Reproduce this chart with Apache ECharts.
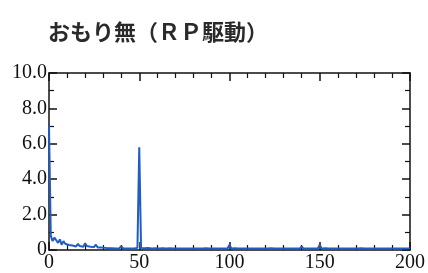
<!DOCTYPE html>
<html>
<head>
<meta charset="utf-8">
<script src="https://cdn.jsdelivr.net/npm/echarts@6/dist/echarts.min.js"></script>
<style>
  html, body { margin: 0; padding: 0; background: #fff; }
  #main { width: 428px; height: 273px; }
</style>
</head>
<body>
<div id="main"></div>
<script>
// 周波数 (Hz)
var freq = [];
for (var f = 0; f <= 200; f++) freq.push(f);

// 振幅 (読み取り値)
var amp = [
  7.0, 0.80, 0.50, 0.70, 0.55, 0.40, 0.60, 0.30, 0.50, 0.35,
  0.45, 0.28, 0.35, 0.25, 0.30, 0.20, 0.35, 0.22, 0.30, 0.18,
  0.38, 0.22, 0.30, 0.18, 0.28, 0.17, 0.30, 0.14, 0.24, 0.14,
  0.20, 0.12, 0.15, 0.10, 0.14, 0.10, 0.12, 0.09, 0.11, 0.09,
  0.22, 0.10, 0.11, 0.08, 0.10, 0.08, 0.09, 0.08, 0.10, 0.12,
  5.80, 0.12, 0.09, 0.10, 0.08, 0.12, 0.08, 0.09, 0.08, 0.10,
  0.20, 0.09, 0.08, 0.10, 0.08, 0.09, 0.08, 0.10, 0.08, 0.09,
  0.18, 0.08, 0.09, 0.08, 0.10, 0.08, 0.09, 0.08, 0.09, 0.08,
  0.18, 0.08, 0.10, 0.08, 0.09, 0.08, 0.09, 0.10, 0.08, 0.09,
  0.18, 0.08, 0.09, 0.08, 0.10, 0.08, 0.09, 0.08, 0.09, 0.10,
  0.30, 0.09, 0.08, 0.10, 0.08, 0.09, 0.08, 0.09, 0.08, 0.09,
  0.20, 0.08, 0.09, 0.08, 0.10, 0.08, 0.09, 0.08, 0.09, 0.08,
  0.18, 0.08, 0.09, 0.10, 0.08, 0.09, 0.08, 0.09, 0.08, 0.09,
  0.18, 0.08, 0.09, 0.08, 0.10, 0.08, 0.09, 0.08, 0.09, 0.08,
  0.20, 0.08, 0.09, 0.08, 0.10, 0.09, 0.08, 0.09, 0.08, 0.10,
  0.30, 0.09, 0.08, 0.10, 0.08, 0.09, 0.08, 0.09, 0.08, 0.09,
  0.20, 0.08, 0.09, 0.08, 0.10, 0.08, 0.09, 0.08, 0.09, 0.08,
  0.18, 0.08, 0.09, 0.10, 0.08, 0.09, 0.08, 0.09, 0.08, 0.09,
  0.18, 0.08, 0.09, 0.08, 0.10, 0.08, 0.09, 0.08, 0.09, 0.08,
  0.18, 0.08, 0.09, 0.08, 0.10, 0.08, 0.09, 0.08, 0.09, 0.08,
  0.10
];

var title = 'おもり無（ＲＰ駆動）';

var myChart = echarts.init(document.getElementById('main'));
var data = freq.map(function (x, i) { return [x, amp[i]]; });

var lineBlack = { show: true, onZero: false, lineStyle: { color: '#111', width: 1.5 } };
var serif = { fontFamily: 'Liberation Serif', fontSize: 20, color: '#111' };
var tick = { show: true, inside: true, length: 8, lineStyle: { color: '#111', width: 1.5 } };

myChart.setOption({
  animation: false,
  title: {
    text: title,
    left: 43,
    top: 16,
    textStyle: { fontFamily: 'Noto Sans CJK JP', fontSize: 22, fontWeight: 'bold', color: '#2a2a2a' }
  },
  grid: { left: 49, right: 16, top: 73, bottom: 20 },
  xAxis: [
    {
      type: 'value', min: 0, max: 200, interval: 50, position: 'bottom',
      axisLine: lineBlack,
      axisTick: tick,
      minorTick: { show: true, splitNumber: 5, length: 5, lineStyle: { color: '#111', width: 1.2 } },
      splitLine: { show: false },
      axisLabel: Object.assign({ margin: 3 }, serif)
    },
    {
      type: 'value', min: 0, max: 200, interval: 50, position: 'top',
      axisLine: lineBlack,
      axisTick: tick,
      minorTick: { show: true, splitNumber: 5, length: 5, lineStyle: { color: '#111', width: 1.2 } },
      splitLine: { show: false },
      axisLabel: { show: false }
    }
  ],
  yAxis: [
    {
      type: 'value', min: 0, max: 10, interval: 2, position: 'left',
      axisLine: lineBlack,
      axisTick: tick,
      minorTick: { show: true, splitNumber: 2, length: 5, lineStyle: { color: '#111', width: 1.2 } },
      splitLine: { show: false },
      axisLabel: Object.assign({
        margin: 2,
        formatter: function (v) { return v === 0 ? '0' : v.toFixed(1); }
      }, serif)
    },
    {
      type: 'value', min: 0, max: 10, interval: 2, position: 'right',
      axisLine: lineBlack,
      axisTick: tick,
      minorTick: { show: true, splitNumber: 2, length: 5, lineStyle: { color: '#111', width: 1.2 } },
      splitLine: { show: false },
      axisLabel: { show: false }
    }
  ],
  series: [
    {
      type: 'line',
      xAxisIndex: 0,
      yAxisIndex: 0,
      data: data,
      showSymbol: false,
      lineStyle: { color: '#1f5cc4', width: 2 },
      z: 1
    }
  ]
});
</script>
</body>
</html>
